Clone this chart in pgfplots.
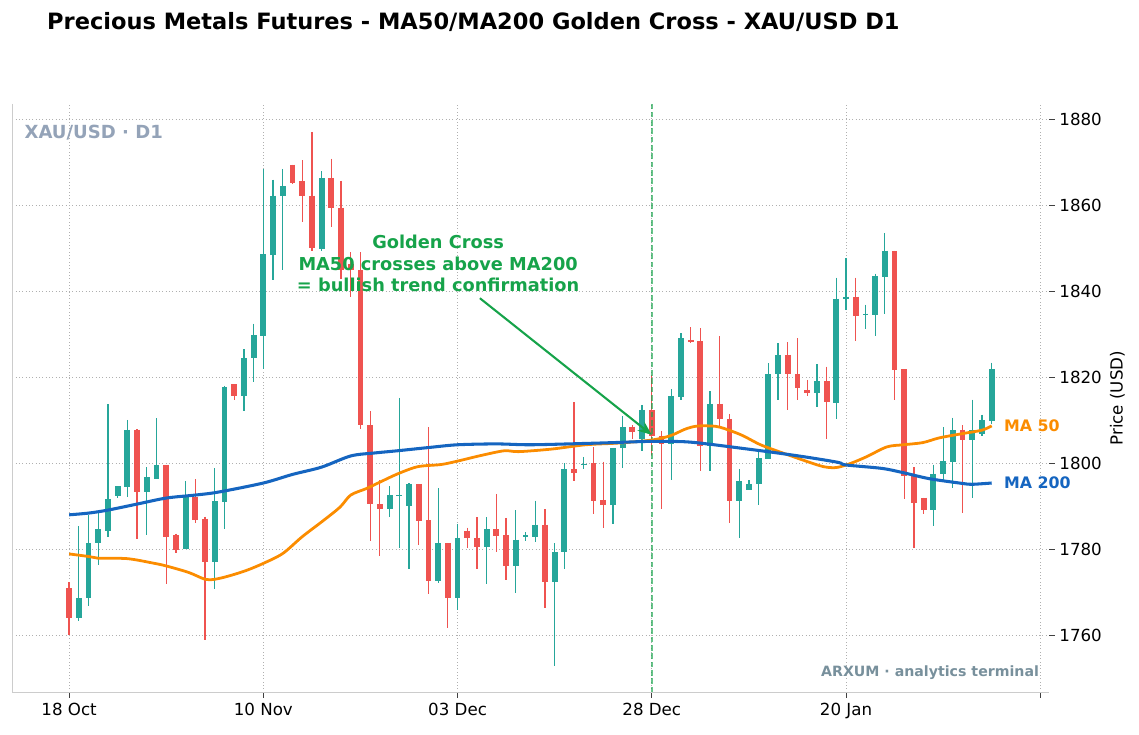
\documentclass[border=0pt]{standalone}
\usepackage{pgfplots}
\pgfplotsset{compat=1.18}
\usepackage{pgfplotstable}
\usepackage{fontspec}
\setmainfont{DejaVu Sans}
\usetikzlibrary{arrows.meta}

\definecolor{upc}{HTML}{26A69A}
\definecolor{dnc}{HTML}{EF5350}
\definecolor{ma50}{HTML}{FB8C00}
\definecolor{ma200}{HTML}{1565C0}
\definecolor{gc}{HTML}{16A34A}
\definecolor{lbl}{HTML}{94A3B8}
\definecolor{wm}{HTML}{78909C}
\definecolor{gridc}{HTML}{B0B0B0}
\definecolor{spine}{HTML}{CCCCCC}

% daily candles, index = trading day
\pgfplotstableread{
i o h l c
1 1764.0 1785.3 1763.4 1768.6
2 1768.6 1788.0 1766.7 1781.4
3 1781.4 1789.1 1776.4 1784.7
4 1784.3 1813.7 1782.9 1791.7
5 1792.4 1794.7 1792.0 1794.6
6 1794.4 1810.1 1792.1 1807.8
8 1793.4 1799.1 1783.2 1796.7
9 1796.4 1810.5 1796.4 1799.6
12 1780.0 1795.9 1780.0 1792.1
15 1777.1 1798.8 1770.8 1791.2
16 1791.0 1818.0 1784.8 1817.8
18 1815.6 1826.5 1812.2 1824.5
19 1824.5 1832.5 1818.9 1829.8
20 1829.6 1868.5 1822.0 1848.6
21 1848.4 1866.0 1842.7 1862.3
22 1862.1 1868.5 1844.9 1864.4
26 1849.9 1868.0 1849.4 1866.4
33 1789.4 1794.7 1787.6 1792.5
34 1792.3 1815.2 1780.2 1792.6
35 1790.0 1795.4 1775.4 1795.2
38 1772.7 1794.2 1772.2 1781.5
40 1768.6 1785.9 1765.9 1782.7
43 1780.5 1787.4 1771.9 1784.6
46 1776.0 1789.1 1769.8 1782.2
47 1782.9 1784.0 1781.8 1783.2
48 1782.9 1791.3 1781.6 1785.7
50 1772.3 1781.4 1752.9 1779.3
51 1779.3 1800.0 1775.3 1798.7
53 1799.6 1801.5 1798.7 1799.9
56 1790.4 1803.6 1785.9 1803.6
57 1803.6 1810.9 1798.8 1808.4
59 1805.6 1813.6 1802.9 1812.4
62 1804.5 1817.2 1796.1 1815.7
63 1815.5 1830.2 1814.7 1829.1
66 1803.9 1816.8 1798.3 1813.8
69 1791.1 1798.6 1782.6 1795.9
70 1793.8 1796.1 1793.8 1795.2
71 1795.1 1802.9 1790.3 1801.2
72 1801.0 1823.3 1801.0 1820.8
73 1820.8 1827.9 1814.7 1825.2
77 1816.3 1823.0 1813.0 1819.1
79 1814.1 1843.2 1810.2 1838.3
80 1838.2 1847.8 1835.6 1838.8
82 1834.5 1836.9 1831.3 1834.8
83 1834.4 1844.1 1829.5 1843.5
84 1843.3 1853.6 1834.8 1849.5
89 1789.1 1799.7 1785.3 1797.6
90 1797.4 1808.4 1796.2 1800.5
91 1800.3 1810.6 1794.3 1807.7
93 1805.5 1814.8 1792.0 1807.7
94 1806.7 1811.3 1806.3 1810.0
95 1809.8 1823.4 1809.1 1821.9
}\up

\pgfplotstableread{
i o h l c
0 1770.9 1772.3 1760.1 1764.0
7 1807.8 1807.9 1782.3 1793.4
10 1799.6 1799.6 1771.9 1782.9
11 1783.2 1783.6 1779.1 1779.8
13 1792.2 1796.3 1786.2 1786.8
14 1787.1 1787.6 1758.8 1777.1
17 1818.4 1818.4 1814.8 1815.6
23 1869.5 1869.5 1864.9 1865.3
24 1865.6 1870.5 1856.1 1862.1
25 1862.3 1877.1 1849.3 1850.1
27 1866.4 1870.9 1855.0 1859.4
28 1859.5 1865.7 1842.9 1844.9
29 1846.4 1849.1 1838.7 1844.9
30 1844.9 1849.1 1808.0 1808.8
31 1808.8 1812.1 1781.8 1790.5
32 1790.5 1796.0 1778.4 1789.4
36 1795.2 1795.2 1780.9 1786.5
37 1786.7 1808.4 1769.6 1772.7
39 1781.5 1781.5 1761.7 1768.6
41 1784.3 1785.0 1780.3 1782.6
42 1782.7 1787.4 1775.4 1780.5
44 1784.6 1792.9 1779.3 1783.0
45 1783.2 1787.3 1772.9 1776.0
49 1785.7 1789.3 1766.3 1772.3
52 1798.7 1814.2 1795.9 1797.7
54 1800.0 1803.7 1788.1 1791.3
55 1791.5 1800.4 1785.0 1790.4
58 1808.5 1808.9 1805.7 1807.2
60 1812.4 1820.5 1802.0 1806.4
61 1806.4 1807.6 1789.3 1804.5
64 1828.7 1831.6 1827.9 1828.3
65 1828.4 1831.4 1798.1 1803.9
67 1813.8 1829.6 1808.7 1810.2
68 1810.3 1811.5 1786.2 1791.1
74 1825.2 1828.1 1812.4 1820.8
75 1820.8 1829.1 1814.7 1817.4
76 1817.1 1819.4 1815.7 1816.3
78 1819.1 1822.5 1805.6 1814.2
81 1838.8 1843.2 1828.4 1834.3
85 1849.4 1849.5 1814.8 1821.6
86 1821.9 1821.9 1791.6 1797.1
87 1797.1 1799.1 1780.2 1790.8
88 1792.0 1792.0 1788.3 1789.1
92 1807.8 1808.8 1788.5 1805.5
}\down

\pgfplotstableread{
i v
0 1778.9
2 1778.3
3 1777.9
6 1777.8
8.8 1776.7
10 1776.1
12.3 1774.6
14 1773.0
15 1773.0
16.5 1773.8
18.3 1775.1
20 1776.7
22 1779.0
24 1782.9
26.2 1786.7
27.9 1789.8
29 1792.6
30.6 1794.1
32 1795.6
33.8 1797.5
35.9 1799.2
38.3 1799.7
40 1800.5
42.4 1801.8
44.8 1802.9
46.3 1802.7
49.7 1803.3
53.2 1804.3
56.6 1804.7
60 1805.4
61.9 1806.4
63.4 1807.9
64.5 1808.6
65.7 1808.7
67 1808.4
69.2 1806.6
71.2 1804.3
73.6 1802.3
76 1800.4
77.7 1799.2
79 1799.0
80.4 1799.9
82.1 1801.5
84.2 1803.8
85.9 1804.3
87.9 1804.8
89.6 1805.9
92 1806.9
94 1807.7
95 1808.7
}\maA

\pgfplotstableread{
i v
0 1788.0
2 1788.4
4 1789.1
7 1790.5
10 1791.9
13 1792.6
15.4 1793.3
20 1795.4
23 1797.4
26 1799.1
29 1801.7
31.5 1802.4
33.8 1802.9
37.2 1803.7
40 1804.3
44 1804.5
47.5 1804.3
53 1804.6
56 1804.8
60 1805.1
63.4 1805.0
65.7 1804.5
69.2 1803.5
72.6 1802.5
76 1801.4
79.2 1800.2
80 1799.6
83.7 1798.8
85.9 1797.8
88.6 1796.4
92 1795.3
93 1795.1
95 1795.4
}\maB

\pgfplotsset{candle/.style={draw=none, mark=none, forget plot,
  error bars/.cd, y dir=minus, y explicit, error mark=none}}

\begin{document}
\begin{tikzpicture}
\path[use as bounding box] (0,0) rectangle (820.08pt,528.48pt);
\node[anchor=base west, inner sep=0pt, font=\fontsize{16.2}{20}\selectfont\bfseries]
  at (33.8pt,507.4pt) {Precious Metals Futures - MA50/MA200 Golden Cross - XAU/USD D1};
\begin{axis}[
  at={(8.86pt,30.02pt)}, anchor=south west,
  scale only axis, width=746.4pt, height=423.6pt,
  xmin=-5.85, xmax=100.9, ymin=1746.7, ymax=1883.6,
  clip mode=individual,
  axis line style={draw=none},
  xtick={0,20,40,60,80,100},
  xticklabels={18 Oct,10 Nov,03 Dec,28 Dec,20 Jan,{}},
  ytick={1760,1780,...,1880},
  xtick pos=left, ytick pos=right, yticklabel pos=right,
  tick align=outside, major tick length=4pt,
  tick style={black!75, line width=0.6pt},
  xmajorgrids, ymajorgrids,
  major grid style={gridc, dotted, line width=0.6pt},
  ticklabel style={font=\fontsize{12}{14}\selectfont},
  /pgf/number format/assume math mode=true,
  /pgf/number format/1000 sep={},
]
% wicks
\addplot[candle, error bar style={draw=upc, line width=0.9pt}]
  table[x=i, y=h, y error minus expr=\thisrow{h}-\thisrow{l}] {\up};
\addplot[candle, error bar style={draw=dnc, line width=0.9pt}]
  table[x=i, y=h, y error minus expr=\thisrow{h}-\thisrow{l}] {\down};
% bodies
\addplot[candle, error bar style={draw=upc, line width=4.2pt}]
  table[x=i, y=c, y error minus expr=\thisrow{c}-\thisrow{o}] {\up};
\addplot[candle, error bar style={draw=dnc, line width=4.2pt}]
  table[x=i, y=o, y error minus expr=\thisrow{o}-\thisrow{c}] {\down};
% golden cross day
\addplot[gc, opacity=0.65, line width=1.1pt, dash pattern=on 4pt off 2pt]
  coordinates {(60,1746.7) (60,1883.6)};
% moving averages
\addplot[ma50, line width=2.0pt, smooth] table[x=i, y=v] {\maA};
\addplot[ma200, line width=2.2pt, smooth] table[x=i, y=v] {\maB};

\draw[spine, line width=0.8pt] (rel axis cs:0,1) -- (rel axis cs:0,0) -- (rel axis cs:1,0);

\node[anchor=west, inner sep=0pt, font=\fontsize{11.4}{14}\selectfont\bfseries, text=ma50]
  at (axis cs:96.24,1808.7) {MA 50};
\node[anchor=west, inner sep=0pt, font=\fontsize{11.4}{14}\selectfont\bfseries, text=ma200]
  at (axis cs:96.24,1795.5) {MA 200};

\node[align=center, inner sep=0pt, font=\fontsize{12.8}{15.5}\selectfont\bfseries, text=gc]
  at (axis cs:38,1846.5) {Golden Cross\\MA50 crosses above MA200\\= bullish trend confirmation};
\draw[gc, line width=1.5pt, -{Stealth[length=10pt, width=8pt]}]
  (axis cs:42.3,1838.4) -- (axis cs:60,1806.6);

\node[anchor=base west, inner sep=0pt, font=\fontsize{13}{15}\selectfont\bfseries, text=lbl]
  at (rel axis cs:0.0116,0.9405) {XAU/USD · D1};
\node[anchor=base east, inner sep=0pt, font=\fontsize{10.2}{12}\selectfont\bfseries, text=wm]
  at (rel axis cs:0.9906,0.0277) {ARXUM · analytics terminal};
\end{axis}
\node[rotate=90, anchor=base, inner sep=0pt, font=\fontsize{12}{14}\selectfont]
  at (808.3pt,241.8pt) {Price (USD)};
\end{tikzpicture}
\end{document}
